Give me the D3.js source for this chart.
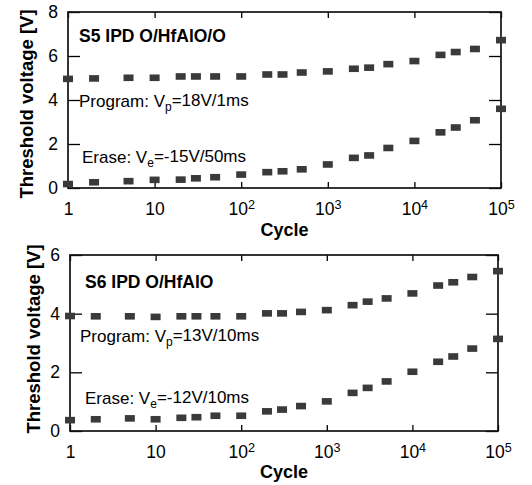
<!DOCTYPE html>
<html><head><meta charset="utf-8">
<script src="https://cdn.jsdelivr.net/npm/d3@7/dist/d3.min.js"></script>
<style>
body{margin:0;background:#fff;}
svg{display:block;font-family:"Liberation Sans",Arial,Helvetica,sans-serif;}
</style></head><body>
<svg id="c" width="532" height="485"></svg>
<script>
const cycles = [1,2,5,10,20,30,50,100,200,300,500,1000,2000,3000,5000,10000,20000,30000,50000,100000];
const s5Program = [4.96,4.98,5.01,5.01,5.07,5.07,5.07,5.07,5.16,5.16,5.25,5.30,5.42,5.47,5.63,5.77,6.05,6.18,6.32,6.72];
const s5Erase   = [0.18,0.26,0.31,0.37,0.38,0.44,0.49,0.61,0.72,0.76,0.85,1.07,1.37,1.48,1.82,2.14,2.53,2.75,3.08,3.60];
const s6Program = [3.92,3.91,3.91,3.89,3.91,3.91,3.91,3.91,4.01,4.01,4.06,4.12,4.29,4.41,4.52,4.69,4.96,5.07,5.25,5.45];
const s6Erase   = [0.37,0.40,0.43,0.40,0.45,0.47,0.52,0.52,0.67,0.73,0.85,1.01,1.30,1.47,1.69,2.02,2.36,2.54,2.81,3.14];
const xTicks = [1,10,100,1000,10000,100000];
const s5YTicks = [0,2,4,6,8];
const s6YTicks = [0,2,4,6];
const yLabel = "Threshold voltage [V]";
const xLabel = "Cycle";

const svg = d3.select("#c");

function xTickLabel(sel){
  sel.each(function(d){
    const t = d3.select(this);
    t.text(null);
    const e = Math.round(Math.log10(d));
    if (e === 0) t.text("1");
    else if (e === 1) t.text("10");
    else {
      t.append("tspan").text("10");
      t.append("tspan").attr("dy","-0.45em").attr("font-size","0.72em").text(e);
    }
  });
}

function panel(cfg){
  const g = svg.append("g");
  const x = d3.scaleLog().domain([1,1e5]).range([cfg.left, cfg.right]);
  const y = d3.scaleLinear().domain([0, cfg.ymax]).range([cfg.bottom, cfg.top]);

  const ax = g.append("g").attr("transform",`translate(0,${cfg.bottom})`)
    .call(d3.axisBottom(x).tickValues(xTicks).tickSizeInner(-6).tickSizeOuter(0).tickPadding(11));
  const axT = g.append("g").attr("transform",`translate(0,${cfg.top})`)
    .call(d3.axisTop(x).tickValues(xTicks).tickSizeInner(-6).tickSizeOuter(0).tickFormat(""));
  const ay = g.append("g").attr("transform",`translate(${cfg.left},0)`)
    .call(d3.axisLeft(y).tickValues(cfg.yTicks).tickSizeInner(-12).tickSizeOuter(0).tickPadding(10).tickFormat(d3.format("d")));
  const ayR = g.append("g").attr("transform",`translate(${cfg.right},0)`)
    .call(d3.axisRight(y).tickValues(cfg.yTicks).tickSizeInner(-12).tickSizeOuter(0).tickFormat(""));
  [ax,axT,ay,ayR].forEach(a=>{ a.select(".domain").remove(); a.selectAll("line").attr("stroke","#000").attr("stroke-width",1.3); });
  ax.selectAll("text").attr("font-size",17.5).attr("fill","#000").attr("font-family","inherit").attr("dy","0.9em").call(xTickLabel);
  ay.selectAll("text").attr("font-size",17.5).attr("fill","#000").attr("font-family","inherit");

  g.append("rect").attr("x",cfg.left).attr("y",cfg.top)
    .attr("width",cfg.right-cfg.left).attr("height",cfg.bottom-cfg.top)
    .attr("fill","none").attr("stroke","#111").attr("stroke-width",1.7);

  [cfg.prog, cfg.erase].forEach(vals=>{
    g.selectAll(null).data(cycles.map((c,i)=>[c,vals[i]])).enter().append("rect")
      .attr("x",d=>x(d[0])-5).attr("y",d=>y(d[1])-3.3).attr("width",10).attr("height",6.6)
      .attr("fill","#3a3a3a");
  });

  g.append("text").attr("x",cfg.titleX).attr("y",cfg.titleY).attr("font-size",17.5).attr("font-weight","bold").text(cfg.title);

  const p = g.append("text").attr("x",cfg.progX).attr("y",cfg.progY).attr("font-size",17);
  p.append("tspan").text("Program: V");
  p.append("tspan").attr("dy","0.3em").attr("font-size",12).text("p");
  p.append("tspan").attr("dy","-0.3em").text(cfg.progText);

  const e = g.append("text").attr("x",cfg.eraseX).attr("y",cfg.eraseY).attr("font-size",17);
  e.append("tspan").text("Erase: V");
  e.append("tspan").attr("dy","0.3em").attr("font-size",12).text("e");
  e.append("tspan").attr("dy","-0.3em").text(cfg.eraseText);

  g.append("text").attr("x",(cfg.left+cfg.right)/2).attr("y",cfg.xLabelY).attr("text-anchor","middle")
    .attr("font-size",18).attr("font-weight","bold").text(xLabel);
  g.append("text").attr("transform",`translate(${cfg.yLabelX},${cfg.yLabelY}) rotate(-90)`).attr("text-anchor","middle")
    .attr("font-size",18.5).attr("font-weight","bold").text(yLabel);
}

panel({left:68,right:501,top:12,bottom:188,ymax:8,yTicks:s5YTicks,prog:s5Program,erase:s5Erase,
  title:"S5 IPD O/HfAlO/O",titleX:79,titleY:42,
  progX:79,progY:107,progText:"=18V/1ms",
  eraseX:82,eraseY:163,eraseText:"=-15V/50ms",
  xLabelY:236,yLabelX:33,yLabelY:104});

panel({left:70,right:498,top:255,bottom:431,ymax:6,yTicks:s6YTicks,prog:s6Program,erase:s6Erase,
  title:"S6 IPD O/HfAlO",titleX:85,titleY:288,
  progX:80,progY:342,progText:"=13V/10ms",
  eraseX:85,eraseY:404,eraseText:"=-12V/10ms",
  xLabelY:478,yLabelX:40,yLabelY:339});
</script></body></html>
